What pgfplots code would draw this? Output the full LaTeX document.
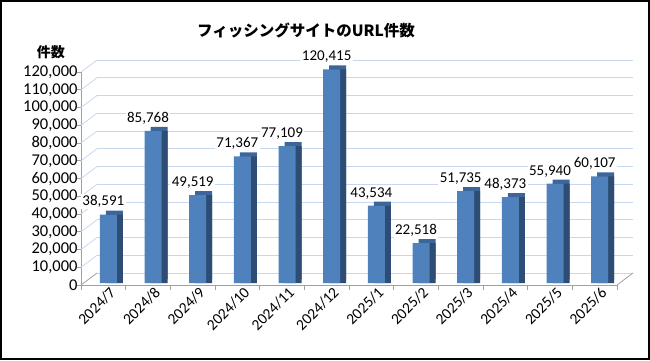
\documentclass[border=0pt]{standalone}
\usepackage{pgfplots}
\usepackage{pgfplotstable}
\pgfplotsset{compat=1.18}
\usepackage{fontspec}
\setmainfont{Carlito}
\newfontfamily\jp{Noto Sans CJK JP}
\definecolor{barfront}{HTML}{4F81BD}
\definecolor{barside}{HTML}{2E4D75}
\definecolor{bartop}{HTML}{3C6599}
\definecolor{gridb}{HTML}{C6D7EE}
\definecolor{axgray}{HTML}{A0A0A0}
\pgfplotstableread{
x y
0 38591
1 85768
2 49519
3 71367
4 77109
5 120415
6 43534
7 22518
8 51735
9 48373
10 55940
11 60107
}\datatable
\begin{document}
\begin{tikzpicture}
\useasboundingbox (-81pt,-75pt) rectangle (569pt,285pt);
\begin{axis}[
  at={(0pt,0pt)}, anchor=south west,
  scale only axis, width=536pt, height=213pt,
  xmin=-0.5, xmax=11.5, ymin=0, ymax=120000,
  axis lines*=left,
  axis line style={draw=axgray, line width=0.8pt},
  ytick={0,10000,20000,30000,40000,50000,60000,70000,80000,90000,100000,110000,120000},
  xtick={0,1,2,3,4,5,6,7,8,9,10,11},
  xticklabels={2024/7,2024/8,2024/9,2024/10,2024/11,2024/12,2025/1,2025/2,2025/3,2025/4,2025/5,2025/6},
  minor xtick={-0.5,0.5,1.5,2.5,3.5,4.5,5.5,6.5,7.5,8.5,9.5,10.5,11.5},
  tick align=outside,
  major tick length=4pt, minor tick length=5pt,
  major x tick style={draw=none},
  minor x tick style={draw=axgray, line width=0.8pt},
  y tick style={draw=axgray, line width=0.8pt},
  ymajorgrids,
  major grid style={draw=gridb, line width=0.8pt, xshift=16pt, yshift=12pt},
  scaled y ticks=false,
  /pgf/number format/.cd, assume math mode=true, 1000 sep={,}, fixed, precision=0,
  /pgfplots/.cd,
  yticklabel style={font=\fontsize{16.5}{16}\selectfont, xshift=4pt},
  xticklabel style={font=\fontsize{15.5}{15}\selectfont, xshift=12pt, yshift=1.5pt, rotate=45, anchor=east},
  clip=false,
]
\draw[gridb, line width=0.8pt] (axis cs:-0.5,10000) -- ++(16pt,12pt);
\draw[gridb, line width=0.8pt] (axis cs:-0.5,20000) -- ++(16pt,12pt);
\draw[gridb, line width=0.8pt] (axis cs:-0.5,30000) -- ++(16pt,12pt);
\draw[gridb, line width=0.8pt] (axis cs:-0.5,40000) -- ++(16pt,12pt);
\draw[gridb, line width=0.8pt] (axis cs:-0.5,50000) -- ++(16pt,12pt);
\draw[gridb, line width=0.8pt] (axis cs:-0.5,60000) -- ++(16pt,12pt);
\draw[gridb, line width=0.8pt] (axis cs:-0.5,70000) -- ++(16pt,12pt);
\draw[gridb, line width=0.8pt] (axis cs:-0.5,80000) -- ++(16pt,12pt);
\draw[gridb, line width=0.8pt] (axis cs:-0.5,90000) -- ++(16pt,12pt);
\draw[gridb, line width=0.8pt] (axis cs:-0.5,100000) -- ++(16pt,12pt);
\draw[gridb, line width=0.8pt] (axis cs:-0.5,110000) -- ++(16pt,12pt);
\draw[gridb, line width=0.8pt] (axis cs:-0.5,120000) -- ++(16pt,12pt);
\draw[axgray, line width=0.8pt] (axis cs:-0.5,0) -- ++(16pt,12pt);
\draw[axgray, line width=0.8pt] (axis cs:11.5,0) -- ++(16pt,12pt);
\addplot[ybar, bar width=17pt, bar shift=5pt, fill=bartop, draw=none, xshift=6pt, yshift=6pt] table[x=x,y=y]{\datatable};
\addplot[ybar, bar width=17pt, bar shift=5pt, fill=barside, draw=none, xshift=6pt, yshift=2pt] table[x=x,y=y]{\datatable};
\addplot[ybar, bar width=17pt, bar shift=5pt, fill=barfront, draw=none, yshift=2pt,
  nodes near coords,
  every node near coord/.append style={fill=white, inner sep=1.5pt, font=\fontsize{15}{15}\selectfont, yshift=5pt}
] table[x=x,y=y]{\datatable};
\end{axis}
\node[font=\jp\bfseries\fontsize{15.5}{16}\selectfont] at (225pt,255pt) {フィッシングサイトのURL件数};
\node[font=\jp\bfseries\fontsize{14}{15}\selectfont] at (-30pt,233pt) {件数};
\draw[line width=2pt] (-80pt,-74pt) rectangle (568pt,284pt);
\end{tikzpicture}
\end{document}
